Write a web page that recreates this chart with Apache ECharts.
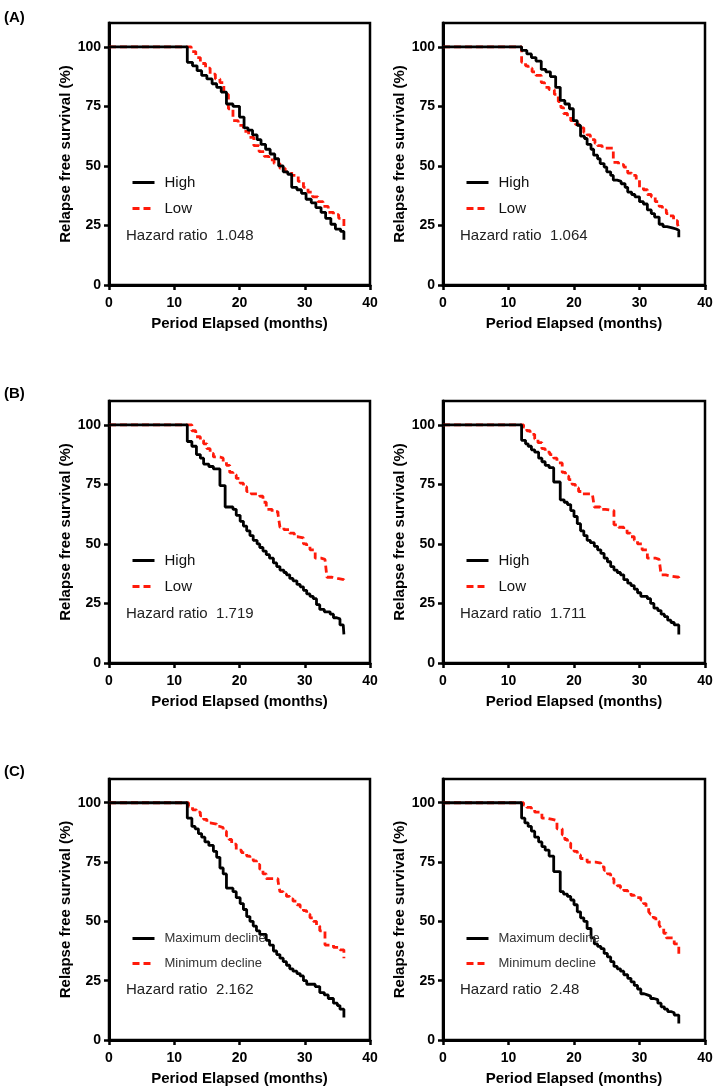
<!DOCTYPE html>
<html>
<head>
<meta charset="utf-8">
<script src="https://cdn.jsdelivr.net/npm/echarts@6/dist/echarts.min.js"></script>
<style>
html, body { margin: 0; padding: 0; background: #fff; }
#chart { width: 720px; height: 1090px; }
</style>
</head>
<body>
<div id="chart"></div>
<script>
// Kaplan-Meier curves: [month, survival %]
var aLeftHigh = [[0,100],[12,93.5],[12.8,92],[13.5,90],[14.2,88],[15,86.5],[15.8,84.5],[16.5,83],[17.2,81],[18,76],[19,75],[20,70.5],[20.7,66],[21.3,65],[22,63],[22.7,61],[23.3,59],[24,57],[24.7,55],[25.4,53],[26,50],[26.7,47.5],[27.4,46.5],[28,41],[28.8,40],[29.5,38.5],[30.2,36],[31,34.5],[31.7,32.5],[32.5,30.5],[33.2,28],[34,25.5],[34.7,23.5],[35.5,22.5],[36,19]];
var aLeftLow = [[0,100],[12.6,98],[13.3,95.5],[14,93],[14.8,91],[15.5,88.5],[16.3,86.5],[17,85],[17.6,80],[18.3,74],[19,69],[19.8,67],[20.6,64.5],[21.4,62],[22.2,58.5],[23,56],[23.8,54],[24.5,52.5],[25.3,51],[26.2,49],[27,47.5],[28,46],[29,43.5],[29.8,41],[30.5,39],[31.2,37],[32,35],[32.8,33],[33.6,30.5],[34.4,29.5],[35.2,28],[36,27],[36,24]];
var aRightHigh = [[0,100],[12,98.5],[12.8,97],[13.5,95.5],[14.2,94],[15,90.5],[15.7,89.5],[16.4,87.5],[17.2,83],[17.9,77.5],[18.6,76],[19.3,74],[19.9,69],[20.5,67],[21,62.5],[21.6,61.5],[22,59],[22.6,57],[23,54.5],[23.6,53],[24,51],[24.6,49.5],[25,47.5],[25.6,46],[26,44],[26.6,43.5],[27.2,42.5],[27.8,41],[28.2,39],[28.8,38],[29.3,37],[30,35],[30.6,34],[31.2,31.5],[31.8,30],[32.3,28.5],[33,25.5],[33.6,24.5],[34.2,24],[35,23.5],[35.6,23],[36,20]];
var aRightLow = [[0,100],[12,93.5],[12.6,92],[13,91],[13.6,89.5],[14.2,88],[15,85],[15.5,83],[16.2,82],[17,80],[17.6,77],[18,74.5],[18.4,72],[19,70.5],[19.5,69],[20.2,67.5],[20.8,66],[21.5,64],[22,63],[22.5,61],[23.2,59.5],[23.6,58.5],[24.3,57.5],[26,51.5],[26.8,50.5],[27.6,49.5],[28.2,47],[28.8,46],[29.5,44],[30,41],[30.6,40],[31.2,38],[31.8,37],[32.4,35],[33,33],[33.5,31.5],[34.1,30],[34.6,29],[35.2,27],[35.8,25.5],[36,24]];

var bLeftHigh = [[0,100],[12,93],[12.7,91],[13.4,87.5],[14,86],[14.5,83.5],[15.3,82.5],[16,81.5],[17,74.5],[17.8,65.5],[19,64.5],[19.5,62],[20.1,59.5],[20.6,57.5],[21.1,55.5],[21.6,53.5],[22.1,51.5],[22.7,50],[23.1,48.5],[23.6,47],[24.1,45.5],[24.6,44],[25.2,42],[25.7,40.5],[26.2,39],[26.8,38],[27.2,37],[27.7,35.5],[28.2,34.5],[28.8,33],[29.3,32],[29.8,30.5],[30.3,29],[30.8,28],[31.3,27],[31.8,24.5],[32.3,22.5],[33,21.5],[33.9,20.5],[34.4,19],[34.9,18.5],[35.4,16],[35.9,15.5],[36,12]];
var bLeftLow = [[0,100],[12.7,97.5],[13.3,95],[14,93.5],[14.5,92],[15,90],[15.5,88],[16,86.5],[17,86],[17.5,84.5],[18,83],[18.5,80],[19,79],[19.5,77.5],[20.1,75.5],[20.6,74],[21.1,72],[21.8,71],[23.1,70],[23.6,67.5],[24.1,64.5],[25,63.5],[25.9,62.5],[26.2,57],[26.8,56],[27.7,54.5],[28.4,53],[29,52.5],[29.8,50],[30.3,49],[30.8,47.5],[31.6,44],[32.5,43.5],[33.1,43],[33.4,36],[34.2,35.5],[35,35],[36,34]];
var bRightHigh = [[0,100],[12,93.5],[12.6,92],[13,91],[13.5,89.5],[14,88.5],[14.6,86],[15.1,84.5],[15.6,83],[16.2,82],[16.9,76],[17.9,68.5],[18.5,67.5],[19,66.5],[19.5,64],[20,61.5],[20.5,58.5],[21,55.5],[21.5,53.5],[22,51.5],[22.5,50.5],[23.1,49],[23.6,47.5],[24.1,46],[24.6,44],[25.1,42.5],[25.6,40.5],[26.1,39],[26.6,38],[27.1,37],[27.6,35],[28.2,33.5],[28.7,32.5],[29.2,31],[29.7,29.5],[30.2,28],[31.2,27],[31.7,25],[32.2,23],[32.8,22],[33.3,20.5],[33.8,19.5],[34.3,18],[34.8,17],[35.3,16],[36,12]];
var bRightLow = [[0,100],[12.3,99],[12.8,97.5],[13.3,96],[14,94],[14.5,92.5],[15.1,90],[15.6,88.5],[16.3,87.5],[16.9,86],[17.4,84],[18.2,80],[18.7,78.5],[19.2,77],[19.7,75],[20.2,73.5],[20.7,72],[21.2,71],[22.8,70.5],[23.1,65.5],[24,64.5],[24.8,64],[26.1,58],[26.8,57],[27.6,56],[28.1,54.5],[28.6,53],[29.2,51.5],[29.7,50],[30.4,47.5],[31.2,44],[32.5,43.5],[33,43],[33.3,37],[34,36.5],[34.8,36],[36,34]];

var cLeftHigh = [[0,100],[12,93.5],[12.7,90],[13.2,89],[13.7,87],[14.2,85.5],[14.7,83.5],[15.3,82],[16,79.5],[16.5,77],[17,72.5],[17.5,70],[18,64],[19,62.5],[19.5,60],[20.1,57.5],[20.6,55],[21.1,52],[21.6,50],[22.1,48],[22.6,46],[23.1,44.5],[24.1,42],[24.6,40],[25.2,37.5],[25.7,36],[26.2,34.5],[26.7,33],[27.2,31.5],[27.7,30],[28.2,29],[28.8,28],[29.3,27],[29.8,25],[30.3,23.5],[31.6,22.5],[32.3,20],[33,19],[33.6,17.5],[34.4,15.5],[35,14.5],[35.4,13],[36,9.5]];
var cLeftLow = [[0,100],[12.2,98.5],[12.8,97],[13.4,96],[14,94.5],[14.5,93],[15,91.5],[15.5,91],[16.5,90],[17,89.5],[17.5,88],[18,86],[18.4,84.5],[18.8,82.5],[19.5,80],[20.3,79],[21.1,77.5],[21.6,76.5],[22.1,75.5],[22.6,74],[23.1,72],[23.6,70],[24.1,68],[25.9,67],[26.2,62.5],[26.7,61.5],[27.2,60.5],[27.7,59.5],[28.2,58.5],[28.8,57],[29.3,56],[29.8,54.5],[30.3,53],[30.8,51.5],[31.3,50],[31.8,48],[32.3,46],[33.1,40],[34.4,39],[35.4,38],[36,34.5]];
var cRightHigh = [[0,100],[12,93.5],[12.5,91.5],[13,90],[13.5,88],[14,85.5],[14.6,83.5],[15.1,81.5],[15.6,80],[16.2,77.5],[16.9,71],[17.9,62.5],[18.4,61.5],[19,60.5],[19.5,59],[20,57],[20.5,54],[21,51.5],[21.5,50],[22,47],[22.6,43],[23.1,40.5],[23.6,39.5],[24.1,38.5],[24.6,36.5],[25.1,35],[25.6,33],[26.1,31],[26.6,30],[27.1,29],[27.6,27.5],[28.2,26],[28.7,24.5],[29.2,23],[29.7,21.5],[30.2,19.5],[30.7,19],[31.2,18.5],[31.7,17.5],[32.2,17],[32.8,15.5],[33.3,14],[33.8,13],[34.3,12],[34.8,11.5],[35.3,10.5],[36,7]];
var cRightLow = [[0,100],[12.3,99],[12.8,98],[13.5,97],[14,96],[15.1,93.5],[15.8,93],[16.7,92.5],[17.4,89],[18.2,86.5],[18.6,84.5],[19,83],[19.5,81],[20,79.5],[20.5,78],[21,76.5],[22,75],[23.3,74.5],[24.1,73],[24.6,71.5],[25.1,70],[25.6,68],[26.1,66],[26.6,65],[27.1,64],[27.6,63],[28.2,62],[28.7,61],[29.2,60],[30.2,59],[30.6,57.5],[31,56],[31.4,54],[31.7,53],[32.1,51.5],[32.5,50],[33,48.5],[33.3,47],[33.7,45],[34.1,43],[35.3,40.5],[36,36]];

var highCurves = [aLeftHigh, aRightHigh, bLeftHigh, bRightHigh, cLeftHigh, cRightHigh];
var lowCurves = [aLeftLow, aRightLow, bLeftLow, bRightLow, cLeftLow, cRightLow];
var highNames = ['High', 'High', 'High', 'High', 'Maximum decline', 'Maximum decline'];
var lowNames = ['Low', 'Low', 'Low', 'Low', 'Minimum decline', 'Minimum decline'];
var hazardRatios = ['1.048', '1.064', '1.719', '1.711', '2.162', '2.48'];
var panelLetters = ['(A)', '(B)', '(C)'];
var yTicks = [0, 25, 50, 75, 100];

var FONT = 'Liberation Sans, Arial, Helvetica, sans-serif';
var colLeft = [109, 443];
var colWidth = [261, 262];
var rowTop = [23, 401, 779];
var rowHeight = [262, 262, 261];

(function () {
    var chart = echarts.init(document.getElementById('chart'));
    var grids = [], xAxes = [], yAxes = [], series = [], legends = [], graphics = [];

    for (var i = 0; i < 6; i++) {
        var r = Math.floor(i / 2), c = i % 2;
        var gl = colLeft[c], gt = rowTop[r];
        var small = r === 2;
        grids.push({
            left: gl, top: gt, width: colWidth[c], height: rowHeight[r],
            show: true, borderColor: '#000', borderWidth: 2.5
        });
        xAxes.push({
            type: 'value', gridIndex: i, min: 0, max: 40, interval: 10,
            name: 'Period Elapsed (months)', nameLocation: 'middle', nameGap: 31,
            nameTextStyle: { fontFamily: FONT, fontSize: 15, fontWeight: 'bold', color: '#000' },
            axisLine: { lineStyle: { color: '#000', width: 3 } },
            axisTick: { length: 5, lineStyle: { color: '#000', width: 2.5 } },
            axisLabel: { margin: 11, fontFamily: FONT, fontSize: 14, fontWeight: 'bold', color: '#000' },
            splitLine: { show: false }
        });
        yAxes.push({
            type: 'value', gridIndex: i, min: 0, max: 110,
            name: 'Relapse free survival (%)', nameLocation: 'middle', nameGap: 30,
            nameTextStyle: { fontFamily: FONT, fontSize: 15, fontWeight: 'bold', color: '#000' },
            axisLine: { lineStyle: { color: '#000', width: 3 } },
            axisTick: { length: 5, customValues: yTicks, lineStyle: { color: '#000', width: 2.5 } },
            axisLabel: { margin: 8, customValues: yTicks, fontFamily: FONT, fontSize: 14, fontWeight: 'bold', color: '#000' },
            splitLine: { show: false }
        });
        series.push({
            type: 'line', name: lowNames[i], xAxisIndex: i, yAxisIndex: i,
            data: lowCurves[i], step: 'end', symbol: 'none', z: 2,
            lineStyle: { color: '#ff1a0a', width: 2.8, type: [7, 4] },
            itemStyle: { color: '#ff1a0a' }
        });
        series.push({
            type: 'line', name: highNames[i], xAxisIndex: i, yAxisIndex: i,
            data: highCurves[i], step: 'end', symbol: 'none', z: 3,
            lineStyle: { color: '#000', width: 2.8 },
            itemStyle: { color: '#000' }
        });
        legends.push({
            data: [highNames[i], lowNames[i]],
            orient: 'vertical', left: gl + 17, top: gt + (small ? 148 : 147),
            itemWidth: 22, itemHeight: 14, itemGap: small ? 12 : 11,
            selectedMode: false,
            itemStyle: { opacity: 0 },
            lineStyle: { width: 3 },
            textStyle: { fontFamily: FONT, fontSize: small ? 13 : 15, color: small ? '#333' : '#111', padding: [0, 0, 0, 5] }
        });
        graphics.push({
            type: 'text', left: gl + 17, top: gt + (small ? 203 : 205),
            style: { text: 'Hazard ratio  ' + hazardRatios[i], font: '15px ' + FONT, fill: '#222' }
        });
    }

    for (var k = 0; k < 3; k++) {
        graphics.push({
            type: 'text', left: 4, top: rowTop[k] - 13 + (k === 0 ? 0 : -2),
            style: { text: panelLetters[k], font: 'bold 15px ' + FONT, fill: '#000' }
        });
    }

    chart.setOption({
        animation: false,
        backgroundColor: '#fff',
        grid: grids,
        xAxis: xAxes,
        yAxis: yAxes,
        legend: legends,
        series: series,
        graphic: graphics
    });
})();
</script>
</body>
</html>
